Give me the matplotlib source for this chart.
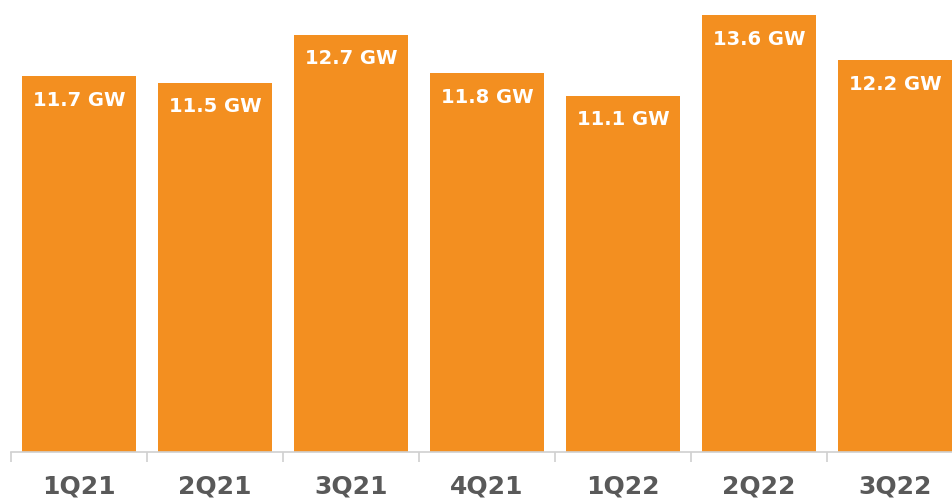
import matplotlib.pyplot as plt
import numpy as np

quarters = ['1Q21', '2Q21', '3Q21', '4Q21', '1Q22', '2Q22', '3Q22']
bar_heights = [11.7, 11.5, 13.0, 11.8, 11.1, 13.6, 12.2]   # as drawn (3Q21 bar is taller than its label)
bar_labels = ['11.7 GW', '11.5 GW', '12.7 GW', '11.8 GW', '11.1 GW', '13.6 GW', '12.2 GW']

fig = plt.figure(figsize=(9.52, 5.03), dpi=100)
ax = fig.add_axes([11 / 952, 51 / 503, 952 / 952, 452 / 503])  # last category runs past the edge

x = np.arange(len(quarters))
bars = ax.bar(x, bar_heights, width=0.84, color='#F38F20', zorder=2)

for b, v, lbl in zip(bars, bar_heights, bar_labels):
    ax.text(b.get_x() + b.get_width() / 2, v - 0.45, lbl,
            ha='center', va='top', color='white', fontsize=14, fontweight='bold')

ax.set_xlim(-0.5, len(quarters) - 0.5)
ax.set_ylim(0, 14.08)

# category labels, tick marks between categories
ax.set_xticks(x)
ax.set_xticklabels(quarters, fontsize=18, fontweight='bold', color='#595959')
ax.tick_params(axis='x', which='major', length=0, pad=16.5)
ax.set_xticks(np.arange(-0.5, len(quarters)), minor=True)
ax.tick_params(axis='x', which='minor', length=7, width=1.2, color='#D0D0D0')

ax.set_yticks([])
for s in ['top', 'right', 'left']:
    ax.spines[s].set_visible(False)
ax.spines['bottom'].set_color('#D0D0D0')
ax.spines['bottom'].set_linewidth(1.2)

fig.savefig('out.png', dpi=100)
